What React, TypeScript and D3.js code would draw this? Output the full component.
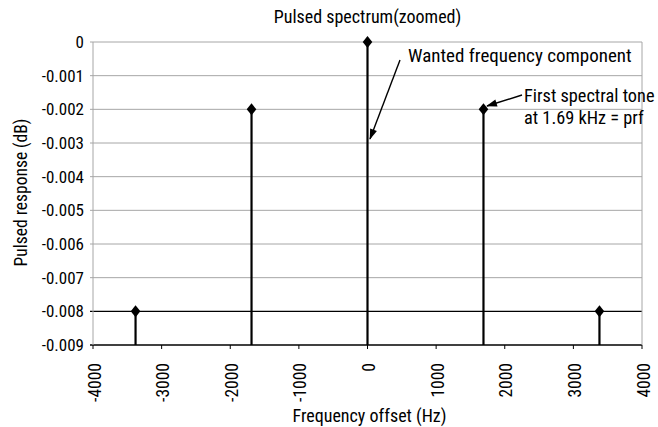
import React from "react";
import * as d3 from "d3";

const freqs = [-3380, -1690, 0, 1690, 3380];
const levels = [-0.008, -0.002, 0, -0.002, -0.008];
const xTicks = [-4000, -3000, -2000, -1000, 0, 1000, 2000, 3000, 4000];
const yTicks = [0, -0.001, -0.002, -0.003, -0.004, -0.005, -0.006, -0.007, -0.008, -0.009];

const W = 658, H = 427;
const FONT = "'Roboto Condensed', 'Liberation Sans Narrow', 'Arial Narrow', sans-serif";
const DIAMOND = "M0,-6 L4.8,0 L0,6 L-4.8,0 Z";

export default function App() {
  const x = d3.scaleLinear().domain([-4000, 4000]).range([93, 642]);
  const y = d3.scaleLinear().domain([-0.009, 0]).range([345, 42]);
  return (
    <svg width={W} height={H} style={{ position: "absolute", left: 0, top: 0 }} fontFamily={FONT} fill="#000">
      <defs>
        <marker id="ah" viewBox="0 0 12 10" refX="11" refY="5" markerWidth="12" markerHeight="9" orient="auto" markerUnits="userSpaceOnUse">
          <path d="M0,1 L12,5 L0,9 z" fill="#000" />
        </marker>
      </defs>
      <rect width={W} height={H} fill="#fff" />
      {/* gridlines */}
      {yTicks.map((t) => (
        <line key={"g" + t} x1={x(-4000) - 3} x2={x(4000)} y1={y(t)} y2={y(t)}
          stroke={t === -0.008 || t === -0.009 ? "#000" : "#a6a6a6"} strokeWidth={t === -0.008 || t === -0.009 ? 1.4 : 1} />
      ))}
      <line x1={x(-4000)} x2={x(-4000)} y1={y(0)} y2={y(-0.009)} stroke="#a6a6a6" />
      <line x1={x(4000)} x2={x(4000)} y1={y(0)} y2={y(-0.009)} stroke="#a6a6a6" />
      {/* x ticks */}
      {xTicks.map((t) => (
        <g key={"x" + t}>
          <line x1={x(t)} x2={x(t)} y1={y(-0.009)} y2={y(-0.009) + 4} stroke="#000" />
          <text transform={`translate(${x(t) + 7.5},363) rotate(-90)`} textAnchor="end" fontSize={17.5}>{t}</text>
        </g>
      ))}
      {/* y labels */}
      {yTicks.map((t) => (
        <text key={"y" + t} x={84} y={y(t) + 6} textAnchor="end" fontSize={17}>{t === 0 ? "0" : t.toFixed(3)}</text>
      ))}
      {/* stems */}
      {freqs.map((f, i) => (
        <g key={"s" + f}>
          <line x1={x(f)} x2={x(f)} y1={y(levels[i])} y2={y(-0.009)} stroke="#000" strokeWidth={2.2} />
          <path d={DIAMOND} transform={`translate(${x(f)},${y(levels[i])})`} fill="#000" />
        </g>
      ))}
      {/* titles */}
      <text x={367.5} y={23} textAnchor="middle" fontSize={18}>Pulsed spectrum(zoomed)</text>
      <text x={369.5} y={422} textAnchor="middle" fontSize={18}>Frequency offset (Hz)</text>
      <text transform="translate(27,192.5) rotate(-90)" textAnchor="middle" fontSize={17.5}>Pulsed response (dB)</text>
      {/* annotations */}
      <text x={408} y={62} fontSize={19}>Wanted frequency component</text>
      <line x1={400} y1={60} x2={370} y2={139} stroke="#000" strokeWidth={1.4} markerEnd="url(#ah)" />
      <text x={524} y={102} fontSize={18.3}>First spectral tone</text>
      <text x={524} y={124} fontSize={18.3}>at 1.69 kHz = prf</text>
      <line x1={522} y1={95} x2={487} y2={106} stroke="#000" strokeWidth={1.4} markerEnd="url(#ah)" />
    </svg>
  );
}
